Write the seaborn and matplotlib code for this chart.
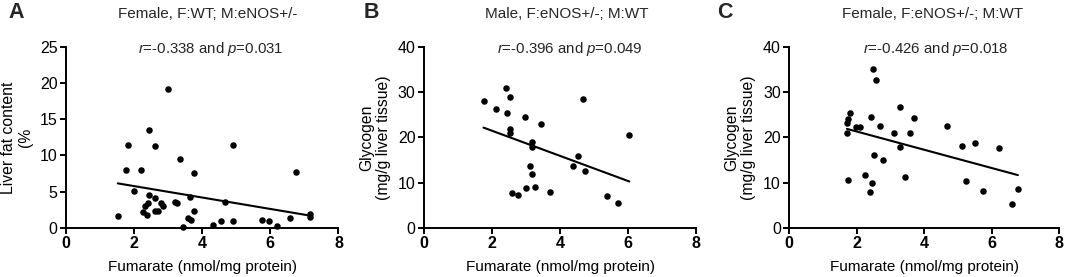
import matplotlib
matplotlib.use('Agg')
import matplotlib.pyplot as plt
import numpy as np
import pandas as pd
import seaborn as sns

# panel A: female, F:WT; M:eNOS+/-
fum_a = [1.52, 1.75, 1.83, 2.01, 2.20, 2.25, 2.38, 2.31, 2.40, 2.45, 2.43, 2.60, 2.61,
         2.60, 2.71, 2.78, 2.86, 3.00, 3.20, 3.27, 3.34, 3.43, 3.57, 3.67, 3.65, 3.76,
         3.77, 4.31, 4.54, 4.66, 4.90, 4.90, 5.74, 5.96, 6.19, 6.57, 6.74, 7.15, 7.17]
fat_a = [1.7, 7.94, 11.4, 5.05, 7.94, 2.2, 1.83, 3.07, 3.49, 4.54, 13.5, 4.17, 11.3,
         2.34, 2.39, 3.39, 2.98, 19.1, 3.62, 3.39, 9.45, 0.14, 1.38, 1.06, 4.22, 2.29,
         7.61, 0.41, 1.01, 3.62, 0.92, 11.5, 1.15, 1.01, 0.32, 1.38, 7.71, 1.97, 1.47]

# panel B: male, F:eNOS+/-; M:WT
fum_b = [1.75, 2.11, 2.41, 2.52, 2.43, 2.52, 2.52, 2.97, 3.45, 3.19, 3.17, 3.12, 3.17,
         2.60, 2.75, 2.99, 3.25, 3.72, 4.68, 6.04, 4.53, 4.39, 4.74, 5.38, 5.72]
gly_b = [28.0, 26.2, 30.95, 28.9, 25.35, 21.9, 20.9, 24.6, 23.0, 18.9, 17.8, 13.6, 11.9,
         7.7, 7.2, 8.8, 9.1, 8.0, 28.5, 20.5, 15.8, 13.6, 12.6, 7.15, 5.45]

# panel C: female, F:eNOS+/-; M:WT
fum_c = [1.71, 1.71, 1.74, 1.80, 1.75, 1.99, 2.11, 2.24, 2.41, 2.38, 2.45, 2.48, 2.57,
         2.52, 2.68, 2.79, 3.12, 3.29, 3.28, 3.44, 3.58, 3.69, 4.68, 5.12, 5.50, 6.22,
         5.24, 5.76, 6.78, 6.60]
gly_c = [20.9, 23.1, 24.1, 25.4, 10.5, 22.3, 22.3, 11.7, 24.4, 7.96, 9.95, 35.1, 32.6,
         16.1, 22.5, 14.9, 20.9, 26.7, 17.8, 11.2, 20.9, 24.2, 22.5, 18.1, 18.7, 17.7,
         10.4, 8.2, 8.5, 5.3]

letters = ['A', 'B', 'C']
titles = ['Female, F:WT; M:eNOS+/-', 'Male, F:eNOS+/-; M:WT', 'Female, F:eNOS+/-; M:WT']
stats = ['$r$=-0.338 and $p$=0.031', '$r$=-0.396 and $p$=0.049', '$r$=-0.426 and $p$=0.018']
ylabels = ['Liver fat content\n(%', 'Glycogen\n(mg/g liver tissue)', 'Glycogen\n(mg/g liver tissue)']
ymax = [25, 40, 40]
ystep = [5, 10, 10]

sns.set_theme(style='ticks')
plt.rcParams['font.family'] = ['Liberation Sans', 'DejaVu Sans']
plt.rcParams['mathtext.fontset'] = 'custom'
plt.rcParams['mathtext.rm'] = 'Liberation Sans'
plt.rcParams['mathtext.it'] = 'Liberation Sans:italic'

W, H = 1065, 277
fig = plt.figure(figsize=(W / 100, H / 100), dpi=100)

# pixel layout of each panel: (left, right, x of title centre, x of letter)
layout = [(66, 338.5, 208, 16), (424, 696, 567, 371), (789.3, 1059, 933, 725)]
data = [(fum_a, fat_a), (fum_b, gly_b), (fum_c, gly_c)]

for i, (xs, ys) in enumerate(data):
    left, right, tx, lx = layout[i]
    ax = fig.add_axes([left / W, (H - 228) / H, (right - left) / W, 181.3 / H])
    df = pd.DataFrame({'x': xs, 'y': ys})
    sns.regplot(data=df, x='x', y='y', ax=ax, ci=None, color='black',
                scatter_kws={'s': 22, 'linewidths': 0, 'alpha': 1, 'clip_on': False},
                line_kws={'linewidth': 1.5})
    ax.set_xlim(0, 8)
    ax.set_ylim(0, ymax[i])
    ax.set_xticks(np.arange(0, 9, 2))
    ax.set_yticks(np.arange(0, ymax[i] + 1, ystep[i]))
    sns.despine(ax=ax)
    for s in ['left', 'bottom']:
        ax.spines[s].set_linewidth(1.4)
        ax.spines[s].set_color('black')
    ax.tick_params(width=1.4, length=4, color='black', labelsize=11.5, pad=2,
                   labelcolor='black')
    for lab in ax.get_xticklabels():
        lab.set_fontweight('bold')
    ax.set_xlabel('Fumarate (nmol/mg protein)', fontsize=11, labelpad=6, color='black')
    ax.set_ylabel(ylabels[i], fontsize=11.3, labelpad=5, linespacing=1.15, color='black')
    fig.text(tx / W, 1 - 14 / H, titles[i], ha='center', va='center', fontsize=11)
    fig.text(tx / W + 3 / W, 1 - 49 / H, stats[i], ha='center', va='center', fontsize=10.8)
    fig.text(lx / W, 1 - 12 / H, letters[i], ha='center', va='center',
             fontsize=15.5, fontweight='bold')

fig.savefig('out.png', dpi=100)
